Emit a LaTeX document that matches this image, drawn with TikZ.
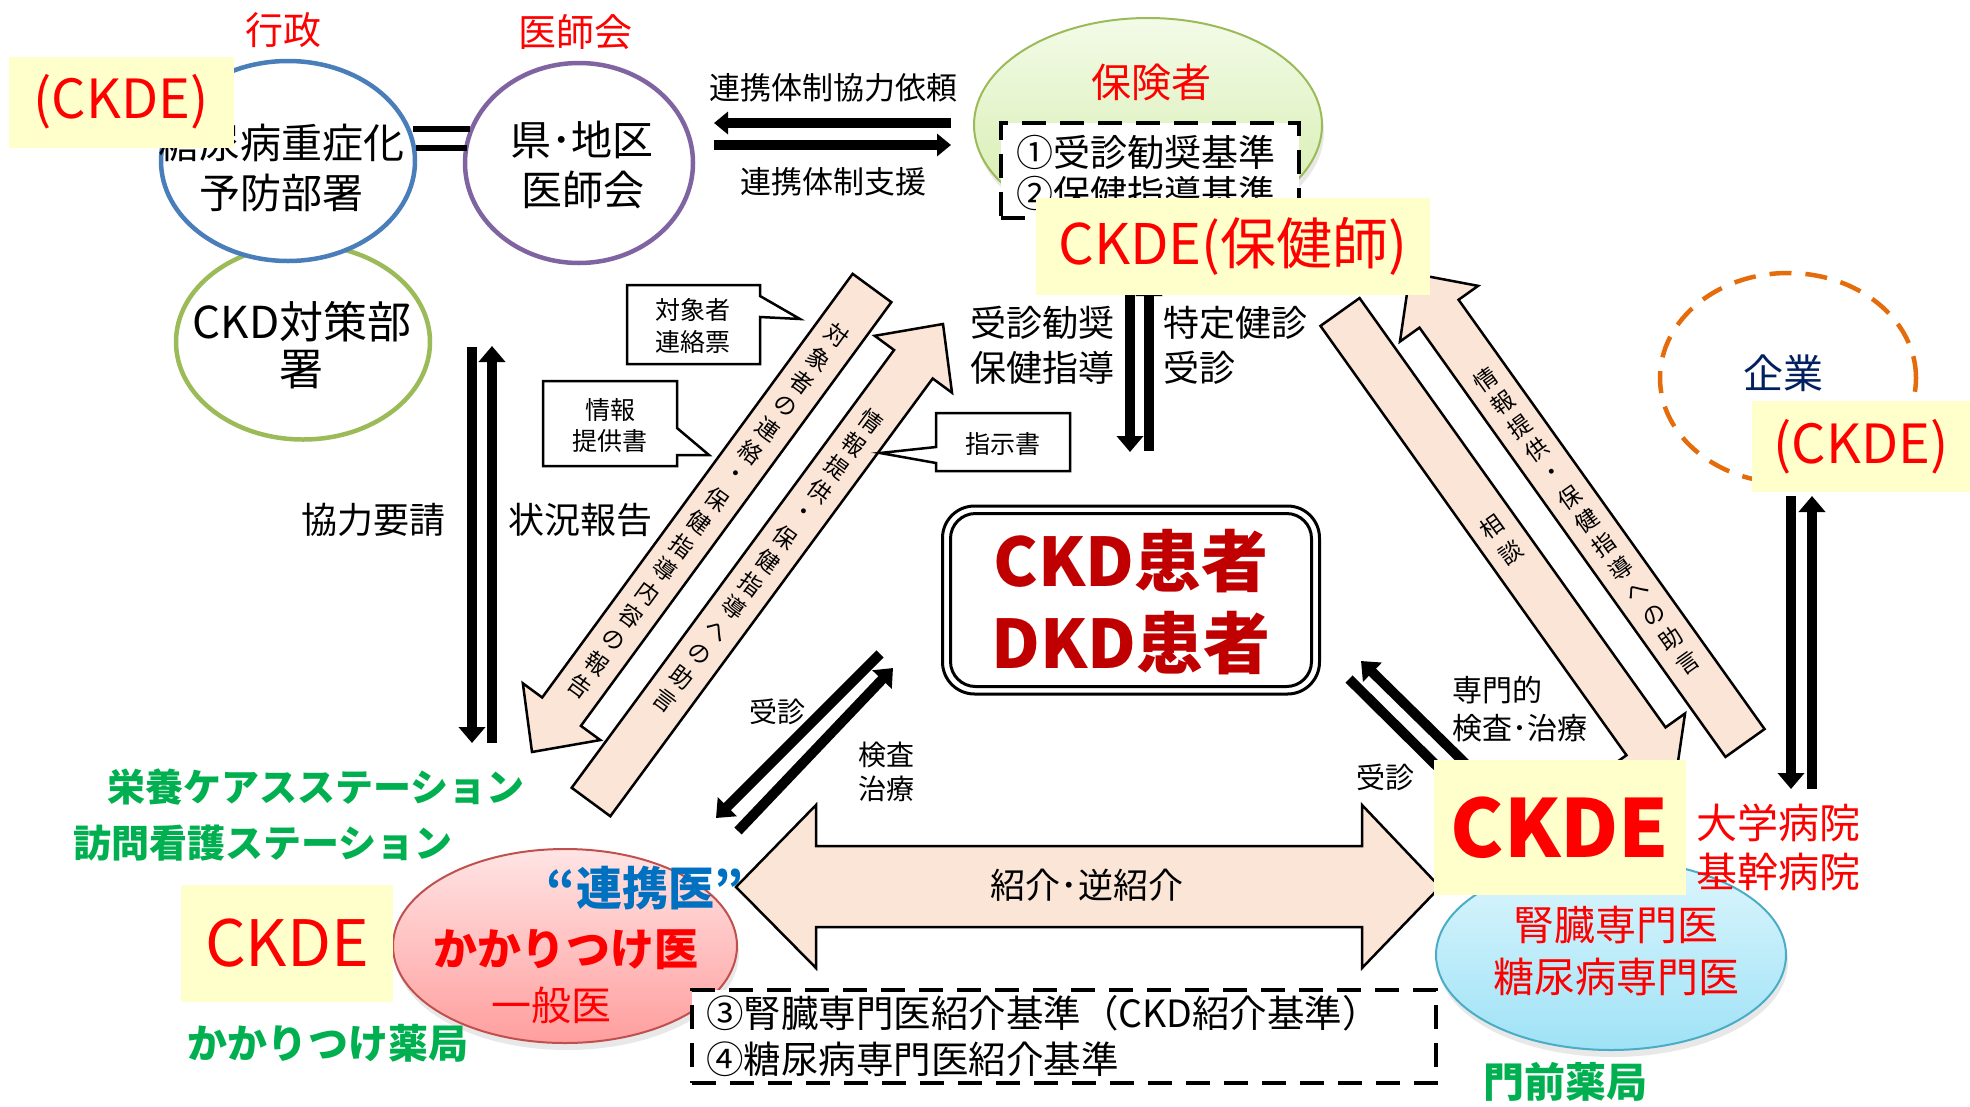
\documentclass[tikz,border=0pt]{standalone}
\usepackage{fontspec}
\setmainfont{Noto Sans CJK JP}
\usetikzlibrary{arrows.meta,calc,shapes.geometric,shadows}
\definecolor{tred}{HTML}{FF0000}
\definecolor{dred}{HTML}{C00000}
\definecolor{ylw}{HTML}{FFFFCC}
\definecolor{beige}{HTML}{FBE5D6}
\definecolor{cblue}{HTML}{4A7EBB}
\definecolor{cpurple}{HTML}{8064A2}
\definecolor{cgreen}{HTML}{9BBB59}
\definecolor{gtext}{HTML}{00B050}
\definecolor{navy}{HTML}{002060}
\definecolor{lblue}{HTML}{0070C0}
\definecolor{orng}{HTML}{E46C0A}
\definecolor{pinkb}{HTML}{C0504D}
\definecolor{cyanb}{HTML}{4BACC6}
\definecolor{greentop}{HTML}{F3FBE8}
\definecolor{greenbot}{HTML}{D3ECA8}
\definecolor{pinktop}{HTML}{FFE4E4}
\definecolor{pinkbot}{HTML}{FF9E9E}
\definecolor{cyantop}{HTML}{DDF6FD}
\definecolor{cyanbot}{HTML}{9FE2F6}
\newcommand\myfs[2]{\fontsize{#1pt}{#2pt}\selectfont}
\newcommand\blockarrow[5]{%
  \path ($(#2)!#5!(#1)$) coordinate (hb);
  \draw[blockarr] ($(#1)!#3!90:(#2)$) -- ($(hb)!#3!90:(#2)$) -- ($(hb)!#4!90:(#2)$) -- (#2)
    -- ($(hb)!#4!-90:(#2)$) -- ($(hb)!#3!-90:(#2)$) -- ($(#1)!#3!-90:(#2)$) -- cycle;}
% vertical (rotated) text, one node per character; #2 = step x, #3 = step y
\newcommand\vchars[5]{%
  \foreach \ch [count=\k from 0] in {#5} {\node[vchar,rotate=#4] (#1c\k) at ($(#1)+(\k*#2,\k*#3)$) {\ch};}}
\begin{document}
\begin{tikzpicture}[x=1pt,y=-1pt,
  lbl/.style={inner sep=0pt,outer sep=0pt},
  ybox/.style={fill=ylw,draw=none,inner sep=0pt},
  blockarr/.style={fill=beige,draw=black,line width=2.5pt,line join=miter},
  thickarr/.style={line width=10pt,-{Triangle[width=26pt,length=16pt]}},
  midarr/.style={line width=10pt,-{Triangle[width=22pt,length=14pt]}},
  callout/.style={fill=white,draw=black,line width=2.5pt},
  dashbox/.style={fill=white,draw=black,line width=4.5pt,dash pattern=on 24pt off 14pt,inner sep=0pt},
  circ/.style={ellipse,inner sep=0pt,fill=white,line width=4.5pt},
  softshadow/.style={drop shadow={opacity=0.18,shadow xshift=2pt,shadow yshift=-7pt}},
  vchar/.style={lbl,font=\myfs{23}{23}}]
\useasboundingbox[fill=white] (0,0) rectangle (1970,1106);

% ---------- top-left circles ----------
\node[circ,draw=cgreen,minimum width=254pt,minimum height=195pt] (taisaku) at (303,342) {};
\node[circ,draw=cblue,minimum width=254pt,minimum height=200pt] (gyosei) at (288,161) {};
\node[circ,draw=cpurple,minimum width=228pt,minimum height=200pt] (ishikai) at (579,163) {};
\node[lbl,font=\myfs{41}{41}] (tg1) at (281,143) {糖尿病重症化};
\node[lbl,font=\myfs{41}{41}] (tg2) at (281,193) {予防部署};
\node[lbl,font=\myfs{41}{41}] (ti1) at (582,140) {県･地区};
\node[lbl,font=\myfs{41}{41}] (ti2) at (583,190) {医師会};
\node[lbl,font=\myfs{44}{44}] (tt1) at (302,322) {CKD対策部};
\node[lbl,font=\myfs{44}{44}] (tt2) at (301,370) {署};
\node[ybox,text=tred,font=\myfs{54}{54},minimum width=225pt,minimum height=91pt] (ckdeA) at (121,102) {(CKDE)};
\node[lbl,text=tred,font=\myfs{38}{38}] (gyoseiLbl) at (283,30) {行政};
\node[lbl,text=tred,font=\myfs{38}{38}] (ishikaiLbl) at (575,32) {医師会};
\coordinate (dl1a) at (413,129); \coordinate (dl1b) at (470,129);
\coordinate (dl2a) at (416,148); \coordinate (dl2b) at (467,148);
\draw[line width=6pt] (dl1a) -- (dl1b);
\draw[line width=6pt] (dl2a) -- (dl2b);

% ---------- cooperation arrows ----------
\coordinate (r1s) at (951,123); \coordinate (r1e) at (714,123);
\coordinate (r2s) at (714,145); \coordinate (r2e) at (951,145);
\draw[midarr] (r1s) -- (r1e);
\draw[midarr] (r2s) -- (r2e);
\node[lbl,font=\myfs{31}{31}] (renkei1) at (833,88) {連携体制協力依頼};
\node[lbl,font=\myfs{31}{31}] (renkei2) at (833,182) {連携体制支援};

% ---------- insurer ----------
\node[ellipse,inner sep=0pt,draw=cgreen,line width=2pt,top color=greentop,bottom color=greenbot,softshadow,minimum width=348pt,minimum height=214pt] (hoken) at (1148,125) {};
\node[lbl,text=tred,font=\myfs{40}{40}] (hokenLbl) at (1151,82) {保険者};
\node[dashbox,minimum width=298pt,minimum height=95pt] (crit1) at (1150,170.5) {};
\node[lbl,anchor=west,font=\myfs{37}{37}] (crit1a) at (1016,152) {①受診勧奨基準};
\node[lbl,anchor=west,font=\myfs{37}{37}] (crit1b) at (1016,193) {②保健指導基準};

% ---------- block arrows ----------
\coordinate (aTail) at (872,288); \coordinate (aTip) at (532,752);
\coordinate (bTail) at (591,802); \coordinate (bTip) at (943,324);
\coordinate (cTail) at (1340,312); \coordinate (cTip) at (1675,782);
\coordinate (dTail) at (1745,743); \coordinate (dTip) at (1410,273);
\blockarrow{aTail}{aTip}{24pt}{48pt}{50pt}
\blockarrow{bTail}{bTip}{24pt}{48pt}{50pt}
\blockarrow{cTail}{cTip}{24pt}{48pt}{50pt}
\blockarrow{dTail}{dTip}{24pt}{48pt}{50pt}
\coordinate (txtA) at (836.5,335.5);
\coordinate (txtB) at (871.2,420.9);
\coordinate (txtC) at (1491.7,527);
\coordinate (txtD) at (1486,379.3);
\vchars{txtA}{-17.14}{23.40}{-36.2}{対,象,者,の,連,絡,・,保,健,指,導,内,容,の,報,告}
\vchars{txtB}{-17.2}{23.35}{-36.4}{情,報,提,供,・,保,健,指,導,へ,の,助,言}
\vchars{txtC}{18.6}{26.1}{35.5}{相,談}
\vchars{txtD}{16.84}{23.62}{35.5}{情,報,提,供,・,保,健,指,導,へ,の,助,言}

% ---------- callouts ----------
\draw[callout] (627,285) -- (760,285) -- (760,296) -- (800,319) -- (760,317) -- (760,364) -- (627,364) -- cycle;
\node[lbl,font=\myfs{25}{25}] (co1a) at (693,310) {対象者};
\node[lbl,font=\myfs{25}{25}] (co1b) at (693,342) {連絡票};
\draw[callout] (543,381) -- (677,381) -- (677,428) -- (709,455) -- (677,455) -- (677,466) -- (543,466) -- cycle;
\node[lbl,font=\myfs{25}{25}] (co2a) at (610,410) {情報};
\node[lbl,font=\myfs{25}{25}] (co2b) at (610,441) {提供書};
\draw[callout] (936,413) -- (1070,413) -- (1070,471) -- (936,471) -- (936,463) -- (880,453) -- (936,447) -- cycle;
\node[lbl,font=\myfs{25}{25}] (co3) at (1003,444) {指示書};

% ---------- health check arrows ----------
\coordinate (k1s) at (1130,290); \coordinate (k1e) at (1130,452);
\coordinate (k2s) at (1149,451); \coordinate (k2e) at (1149,280);
\draw[thickarr] (k1s) -- (k1e);
\draw[thickarr] (k2s) -- (k2e);
\node[lbl,anchor=east,font=\myfs{36}{36}] (jus1) at (1114,323) {受診勧奨};
\node[lbl,anchor=east,font=\myfs{36}{36}] (jus2) at (1114,368) {保健指導};
\node[lbl,anchor=west,font=\myfs{36}{36}] (tok1) at (1163,323) {特定健診};
\node[lbl,anchor=west,font=\myfs{36}{36}] (tok2) at (1163,368) {受診};
\node[ybox,text=tred,font=\myfs{56}{56},minimum width=394pt,minimum height=97pt] (ckdeHo) at (1233,246.5) {CKDE(保健師)};

% ---------- left vertical pair ----------
\coordinate (v1s) at (472,347); \coordinate (v1e) at (472,743);
\coordinate (v2s) at (492,743); \coordinate (v2e) at (492,346);
\draw[thickarr] (v1s) -- (v1e);
\draw[thickarr] (v2s) -- (v2e);
\node[lbl,font=\myfs{36}{36}] (kyoryoku) at (373,520) {協力要請};
\node[lbl,font=\myfs{36}{36}] (jokyo) at (580,520) {状況報告};

% ---------- patient box ----------
\node[draw,line width=3pt,rounded corners=32pt,minimum width=377pt,minimum height=188pt] (patient) at (1131,600) {};
\node[draw,line width=3pt,rounded corners=25pt,minimum width=361pt,minimum height=173pt] (patientIn) at (1131,600) {};
\node[lbl,text=dred,font=\myfs{67}{67}\bfseries] (ckdp) at (1131,561) {CKD患者};
\node[lbl,text=dred,font=\myfs{67}{67}\bfseries] (dkdp) at (1131,643) {DKD患者};

% ---------- diagonal pairs ----------
\coordinate (f1s) at (880,654); \coordinate (f1e) at (716,818);
\coordinate (f2s) at (738,831); \coordinate (f2e) at (893,668);
\draw[thickarr] (f1s) -- (f1e);
\draw[thickarr] (f2s) -- (f2e);
\node[lbl,font=\myfs{28}{28}] (fjus) at (777,712) {受診};
\node[lbl,font=\myfs{28}{28}] (fken1) at (886,755) {検査};
\node[lbl,font=\myfs{28}{28}] (fken2) at (886,789) {治療};
\coordinate (g1s) at (1470,768); \coordinate (g1e) at (1361,661);
\coordinate (g2s) at (1349,679); \coordinate (g2e) at (1455,784);
\draw[thickarr] (g1s) -- (g1e);
\draw[thickarr] (g2s) -- (g2e);
\node[lbl,anchor=west,font=\myfs{30}{30}] (gsen1) at (1452,690) {専門的};
\node[lbl,anchor=west,font=\myfs{30}{30}] (gsen2) at (1452,728) {検査･治療};
\node[lbl,font=\myfs{29}{29}] (gjus) at (1385,777) {受診};

% ---------- bottom-left ----------
\node[ellipse,inner sep=0pt,draw=pinkb,line width=2pt,top color=pinktop,bottom color=pinkbot,softshadow,minimum width=344pt,minimum height=194pt] (kakari) at (565,946) {};
\node[lbl,text=lblue,font=\myfs{46}{46}\bfseries] (renkeii) at (645,888) {“連携医”};
\node[lbl,text=tred,font=\myfs{44}{44}\bfseries] (kakarii) at (566,950) {かかりつけ医};
\node[lbl,text=tred,font=\myfs{40}{40}] (ippan) at (551,1005) {一般医};
\node[ybox,text=tred,font=\myfs{64}{64},minimum width=212pt,minimum height=117pt] (ckdeL) at (287,943.5) {CKDE};
\node[lbl,text=gtext,font=\myfs{38}{38}\bfseries] (eiyo) at (316,787) {栄養ケアスステーション};
\node[lbl,text=gtext,font=\myfs{38}{38}\bfseries] (homon) at (263,843) {訪問看護ステーション};
\node[lbl,text=gtext,font=\myfs{40}{40}\bfseries] (yakkyoku) at (328,1043) {かかりつけ薬局};

% ---------- referral arrow ----------
\coordinate (eL) at (736,887); \coordinate (eR) at (1440,887);
\draw[blockarr] (eL) -- (816,805) -- (816,846) -- (1362,846) -- (1362,805) -- (eR) -- (1362,968) -- (1362,927) -- (816,927) -- (816,968) -- cycle;
\node[lbl,font=\myfs{35}{35}] (shokai) at (1087,885) {紹介･逆紹介};

% ---------- bottom criteria box ----------
\node[dashbox,minimum width=744pt,minimum height=93pt] (crit2) at (1064,1036.5) {};
\node[lbl,anchor=west,font=\myfs{37.5}{37.5}] (crit2a) at (706,1013) {③腎臓専門医紹介基準（CKD紹介基準）};
\node[lbl,anchor=west,font=\myfs{37.5}{37.5}] (crit2b) at (706,1059) {④糖尿病専門医紹介基準};

% ---------- specialists ----------
\node[ellipse,inner sep=0pt,draw=cyanb,line width=2pt,top color=cyantop,bottom color=cyanbot,softshadow,minimum width=350pt,minimum height=190pt] (senmon) at (1611,955) {};
\node[lbl,text=tred,font=\myfs{41}{41}] (jinzo) at (1616,925) {腎臓専門医};
\node[lbl,text=tred,font=\myfs{41}{41}] (tonyo) at (1616,977) {糖尿病専門医};
\node[ybox,text=tred,font=\myfs{80}{80}\bfseries,minimum width=252pt,minimum height=135pt] (ckdeR) at (1560,827.5) {CKDE};
\node[lbl,text=tred,font=\myfs{41}{41}] (daigaku) at (1778,823) {大学病院};
\node[lbl,text=tred,font=\myfs{41}{41}] (kikan) at (1778,872) {基幹病院};
\node[lbl,text=gtext,font=\myfs{41}{41}\bfseries] (monzen) at (1565,1082) {門前薬局};

% ---------- company ----------
\node[ellipse,inner sep=0pt,draw=orng,line width=4.5pt,dash pattern=on 22pt off 14pt,minimum width=256pt,minimum height=210pt] (kigyo) at (1788,378) {};
\node[lbl,text=navy,font=\myfs{40}{40}] (kigyoLbl) at (1783,373) {企業};
\node[ybox,text=tred,font=\myfs{54}{54},minimum width=218pt,minimum height=91pt] (ckdeK) at (1861,446.5) {(CKDE)};
\coordinate (h1s) at (1791,496); \coordinate (h1e) at (1791,789);
\coordinate (h2s) at (1812,789); \coordinate (h2e) at (1812,496);
\draw[thickarr] (h1s) -- (h1e);
\draw[thickarr] (h2s) -- (h2e);
\end{tikzpicture}
\end{document}
